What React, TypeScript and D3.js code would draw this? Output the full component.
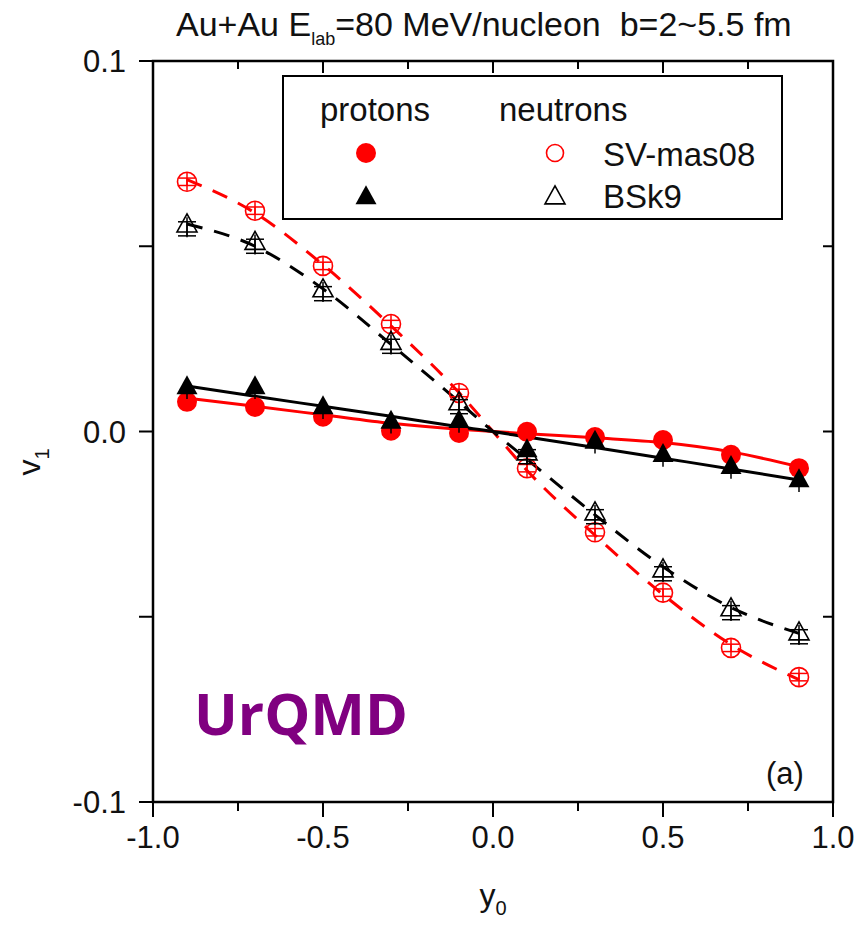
import React from "react";
import * as d3 from "d3";

// rapidity bins
const rapidity = [-0.9, -0.7, -0.5, -0.3, -0.1, 0.1, 0.3, 0.5, 0.7, 0.9];

// directed flow v1 per bin
const protonSV = [0.008, 0.0066, 0.004, 0.0002, -0.0004, -0.0001, -0.0015, -0.0023, -0.0063, -0.0099];
const protonBSk = [0.012, 0.012, 0.0066, 0.0027, 0.0029, -0.005, -0.0027, -0.0063, -0.0095, -0.0131];
const neutronSV = [0.0674, 0.0596, 0.0447, 0.029, 0.0104, -0.0099, -0.0272, -0.0435, -0.0584, -0.0663];
const neutronBSk = [0.0557, 0.051, 0.0382, 0.024, 0.0077, -0.0058, -0.022, -0.0374, -0.0479, -0.0544];

// fitted curves
const fitX = [-0.9, -0.7, -0.5, -0.3, -0.1, 0, 0.1, 0.3, 0.5, 0.7, 0.9];
const fitProtonSV = [0.009, 0.0068, 0.0045, 0.0022, 0.0006, 0, -0.0006, -0.0017, -0.003, -0.0055, -0.0095];
const fitProtonBSk = [0.0123, 0.0095, 0.0068, 0.0041, 0.0013, 0, -0.0015, -0.0043, -0.0072, -0.0101, -0.0131];
const fitNeutronSV = [0.068, 0.059, 0.045, 0.0285, 0.0105, 0, -0.0105, -0.028, -0.044, -0.0575, -0.067];
const fitNeutronBSk = [0.056, 0.05, 0.0385, 0.0235, 0.008, 0, -0.0075, -0.0225, -0.0365, -0.0475, -0.0545];

const xMajor = [-1.0, -0.5, 0.0, 0.5, 1.0];
const xMinor = [-0.75, -0.25, 0.25, 0.75];
const yMajor = [-0.1, 0.0, 0.1];
const yMinor = [-0.05, 0.05];

const W = 861;
const H = 938;
const left = 153, right = 833, top = 61, bottom = 802;

const x = d3.scaleLinear().domain([-1, 1]).range([left, right]);
const y = d3.scaleLinear().domain([-0.1, 0.1]).range([bottom, top]);

const RED = "#ff0000";
const font = "'Liberation Sans', Arial, sans-serif";

function fitPath(vals: number[]) {
  const line = d3
    .line<number>()
    .x((_, i) => x(fitX[i]))
    .y((v) => y(v))
    .curve(d3.curveMonotoneX);
  return line(vals) || "";
}

function triPath(cx: number, cy: number, s: number) {
  const h = s * 0.9;
  return `M${cx},${cy - h * 0.62} L${cx + s / 2},${cy + h * 0.38} L${cx - s / 2},${cy + h * 0.38} Z`;
}

function ErrorBar({ cx, v, err, cap, color }: { cx: number; v: number; err: number; cap: number; color: string }) {
  const y1 = y(v + err);
  const y2 = y(v - err);
  return (
    <g stroke={color} strokeWidth={1.5}>
      <line x1={cx} x2={cx} y1={y1} y2={y2} />
      <line x1={cx - cap / 2} x2={cx + cap / 2} y1={y1} y2={y1} />
      <line x1={cx - cap / 2} x2={cx + cap / 2} y1={y2} y2={y2} />
    </g>
  );
}

export default function App() {
  return (
    <svg
      width={W}
      height={H}
      viewBox={`0 0 ${W} ${H}`}
      style={{ position: "absolute", left: 0, top: 0, background: "#fff" }}
      fontFamily={font}
    >
      <rect width={W} height={H} fill="#fff" />

      {/* title */}
      <text x={176} y={36} fontSize={34} fill="#111">
        Au+Au E
        <tspan fontSize={18} dy={9}>lab</tspan>
        <tspan dy={-9}>=80 MeV/nucleon{"\u00A0\u00A0"}b=2~5.5 fm</tspan>
      </text>

      {/* fitted curves */}
      <path d={fitPath(fitNeutronSV)} fill="none" stroke={RED} strokeWidth={3} strokeDasharray="16 12" />
      <path d={fitPath(fitNeutronBSk)} fill="none" stroke="#000" strokeWidth={3} strokeDasharray="16 12" />
      <path d={fitPath(fitProtonSV)} fill="none" stroke={RED} strokeWidth={3} />
      <path d={fitPath(fitProtonBSk)} fill="none" stroke="#000" strokeWidth={3} />

      {/* neutrons, SV-mas08 */}
      {rapidity.map((r, i) => (
        <g key={`nsv${i}`}>
          <circle cx={x(r)} cy={y(neutronSV[i])} r={9.5} fill="none" stroke={RED} strokeWidth={1.6} />
          <ErrorBar cx={x(r)} v={neutronSV[i]} err={0.001} cap={16} color={RED} />
          <line x1={x(r)} x2={x(r)} y1={y(neutronSV[i]) - 9} y2={y(neutronSV[i]) + 9} stroke={RED} strokeWidth={1.5} />
        </g>
      ))}

      {/* neutrons, BSk9 */}
      {rapidity.map((r, i) => (
        <g key={`nbs${i}`}>
          <path d={triPath(x(r), y(neutronBSk[i]), 20)} fill="none" stroke="#000" strokeWidth={1.6} />
          <ErrorBar cx={x(r)} v={neutronBSk[i] - 0.001} err={0.0019} cap={18} color="#000" />
          <line x1={x(r)} x2={x(r)} y1={y(neutronBSk[i]) - 8} y2={y(neutronBSk[i]) + 12} stroke="#000" strokeWidth={1.5} />
        </g>
      ))}

      {/* protons, SV-mas08 */}
      {rapidity.map((r, i) => (
        <circle key={`psv${i}`} cx={x(r)} cy={y(protonSV[i])} r={10} fill={RED} />
      ))}

      {/* protons, BSk9 */}
      {rapidity.map((r, i) => (
        <g key={`pbs${i}`}>
          <path d={triPath(x(r), y(protonBSk[i]), 21)} fill="#000" />
          <line x1={x(r)} x2={x(r)} y1={y(protonBSk[i]) - 6} y2={y(protonBSk[i]) + 12} stroke="#000" strokeWidth={1.5} />
        </g>
      ))}

      {/* frame */}
      <rect x={left} y={top} width={right - left} height={bottom - top} fill="none" stroke="#000" strokeWidth={2.5} />

      {/* x ticks: outward at bottom, inward at top */}
      {xMajor.map((t) => (
        <g key={`xM${t}`} stroke="#000" strokeWidth={2}>
          <line x1={x(t)} x2={x(t)} y1={bottom} y2={bottom + 15} />
          <line x1={x(t)} x2={x(t)} y1={top} y2={top + 12} />
        </g>
      ))}
      {xMinor.map((t) => (
        <g key={`xm${t}`} stroke="#000" strokeWidth={2}>
          <line x1={x(t)} x2={x(t)} y1={bottom} y2={bottom + 9} />
          <line x1={x(t)} x2={x(t)} y1={top} y2={top + 8} />
        </g>
      ))}
      {xMajor.map((t) => (
        <text key={`xl${t}`} x={x(t)} y={848} fontSize={31} textAnchor="middle" fill="#111">
          {d3.format(".1f")(t).replace("−", "-")}
        </text>
      ))}

      {/* y ticks: outward at left, inward at right */}
      {yMajor.concat(yMinor).map((t) => (
        <g key={`yt${t}`} stroke="#000" strokeWidth={2}>
          <line x1={left - 14} x2={left} y1={y(t)} y2={y(t)} />
          <line x1={right - 10} x2={right} y1={y(t)} y2={y(t)} />
        </g>
      ))}
      {yMajor.map((t) => (
        <text key={`yl${t}`} x={126} y={y(t)} dy="0.36em" fontSize={31} textAnchor="end" fill="#111">
          {d3.format(".1f")(t).replace("−", "-")}
        </text>
      ))}

      {/* axis titles */}
      <text x={493} y={906} fontSize={32} textAnchor="middle" fill="#111">
        y<tspan fontSize={20} dy={9}>0</tspan>
      </text>
      <text transform="translate(40,462) rotate(-90)" fontSize={32} textAnchor="middle" fill="#111">
        v<tspan fontSize={20} dy={9}>1</tspan>
      </text>

      {/* legend */}
      <rect x={283} y={76} width={499} height={143} fill="#fff" stroke="#000" strokeWidth={2} />
      <text x={320} y={121} fontSize={33} fill="#111">protons</text>
      <text x={499} y={121} fontSize={33} fill="#111">neutrons</text>
      <circle cx={366} cy={153} r={10} fill={RED} />
      <path d={triPath(366, 197, 21)} fill="#000" />
      <circle cx={555} cy={153} r={8.5} fill="none" stroke={RED} strokeWidth={1.6} />
      <path d={triPath(555, 197, 20)} fill="none" stroke="#000" strokeWidth={1.6} />
      <text x={603} y={166} fontSize={33} fill="#111">SV-mas08</text>
      <text x={603} y={208} fontSize={33} fill="#111">BSk9</text>

      {/* panel labels */}
      <text x={785} y={784} fontSize={31} textAnchor="middle" fill="#111">(a)</text>
      <text x={194} y={735} fontSize={58} fontWeight={700} fontFamily="'Open Sans', sans-serif" fill="#800080">
        UrQMD
      </text>
    </svg>
  );
}
